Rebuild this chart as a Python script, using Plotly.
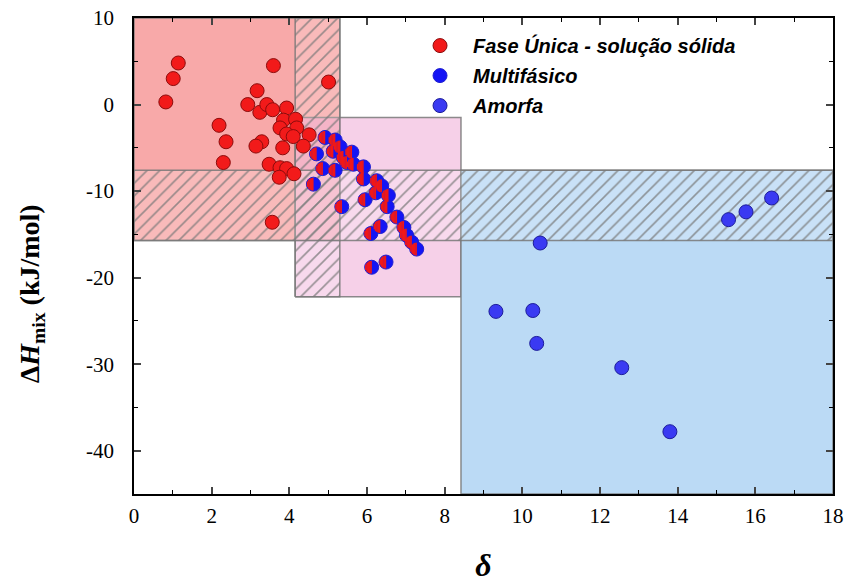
import math
import plotly.graph_objects as go

# ---- data ----
single_x = [1.14, 1.01, 0.82, 3.59, 5.01, 3.17, 2.93, 3.24, 3.42, 3.57, 3.93, 3.85, 4.16, 3.76, 4.19,
            3.93, 4.10, 4.51, 2.19, 2.37, 3.29, 3.14, 3.83, 4.36, 2.30, 3.48, 3.76, 3.93, 3.74, 4.12, 3.56]
single_y = [4.8, 3.0, 0.3, 4.5, 2.6, 1.6, 0.0, -0.9, 0.0, -0.6, -0.4, -1.8, -1.7, -2.7, -2.7,
            -3.4, -3.7, -3.5, -2.4, -4.3, -4.3, -4.8, -5.0, -4.8, -6.7, -6.9, -7.3, -7.4, -8.4, -8.0, -13.6]

multi_x = [4.92, 5.18, 5.31, 5.61, 4.70, 5.13, 5.39, 5.48, 5.65, 4.86, 5.18, 5.91, 5.91, 6.25, 6.38,
           6.23, 6.55, 4.62, 5.35, 5.95, 6.52, 6.77, 6.95, 7.02, 7.15, 7.28, 6.34, 6.10, 6.49, 6.12]
multi_y = [-3.8, -4.1, -4.9, -5.5, -5.7, -5.4, -6.1, -6.7, -6.9, -7.4, -7.6, -7.2, -8.6, -8.8, -9.4,
           -10.2, -10.5, -9.2, -11.8, -11.0, -11.8, -13.0, -14.2, -15.1, -15.9, -16.7, -14.1, -14.9, -18.2, -18.8]

amorph_x = [16.42, 15.76, 15.31, 10.46, 9.32, 10.27, 10.37, 12.56, 13.80]
amorph_y = [-10.8, -12.4, -13.3, -16.0, -23.9, -23.8, -27.6, -30.4, -37.8]

# region bounds [x0, x1, y0, y1]
red_region = [0, 5.3, -15.7, 10]
pink_region = [4.15, 8.42, -22.2, -1.5]
blue_region = [8.42, 18, -45, -7.6]
hatch_vertical = [4.15, 5.3, -22.2, 10]
hatch_band = [0, 18, -15.7, -7.6]

series_names = ["Fase Única - solução sólida", "Multifásico", "Amorfa"]
x_ticks = [0, 2, 4, 6, 8, 10, 12, 14, 16, 18]
x_tick_labels = ["0", "2", "4", "6", "8", "10", "12", "14", "16", "18"]
y_ticks = [-40, -30, -20, -10, 0, 10]
y_tick_labels = ["-40", "-30", "-20", "-10", "0", "10"]
x_title = "<b><i>δ</i></b>"
y_title = "<b>Δ<i>H</i><sub>mix</sub> (kJ/mol)</b>"


def rect(b):
    x0, x1, y0, y1 = b
    return [x0, x1, x1, x0, x0], [y0, y0, y1, y1, y0]


fig = go.Figure()
border = dict(color="rgba(120,120,120,0.85)", width=1.5)

for b, fc in [(red_region, "rgba(246,140,140,0.75)"),
              (pink_region, "rgba(236,150,205,0.45)"),
              (blue_region, "rgba(187,218,245,1)")]:
    xs, ys = rect(b)
    fig.add_trace(go.Scatter(x=xs, y=ys, mode="lines", fill="toself", fillcolor=fc,
                             line=border, showlegend=False, hoverinfo="skip"))

for b in [hatch_vertical, hatch_band]:
    xs, ys = rect(b)
    fig.add_trace(go.Scatter(x=xs, y=ys, mode="lines", fill="toself",
                             fillcolor="rgba(255,255,255,0.2)",
                             fillpattern=dict(shape="/", fgcolor="rgb(120,120,120)", fgopacity=0.75,
                                              bgcolor="rgba(255,255,255,0.2)", size=9, solidity=0.18),
                             line=border, showlegend=False, hoverinfo="skip"))

fig.add_trace(go.Scatter(
    x=single_x, y=single_y, mode="markers", name=series_names[0], legendgroup="a",
    marker=dict(size=14, color="#f21a1a", line=dict(color="#8c0c0c", width=1))))

# multiphase: blue disc with a red left half built from thin vertical strokes
fig.add_trace(go.Scatter(
    x=multi_x, y=multi_y, mode="markers", name=series_names[1], legendgroup="b",
    marker=dict(size=14, color="#1414f5", line=dict(color="#2020d0", width=1))))
R_HALF = 6.4
N_STRIPS = 5
w = R_HALF / N_STRIPS
for i in range(N_STRIPS):
    c = (i + 0.5) * w
    h = math.sqrt(R_HALF ** 2 - c ** 2)
    fig.add_trace(go.Scatter(
        x=multi_x, y=multi_y, mode="markers", showlegend=False, legendgroup="b", hoverinfo="skip",
        marker=dict(symbol="line-ew", size=2 * h / 1.4, angle=90, standoff=c,
                    line=dict(color="#f01818", width=w + 0.35))))

fig.add_trace(go.Scatter(
    x=amorph_x, y=amorph_y, mode="markers", name=series_names[2], legendgroup="c",
    marker=dict(size=14, color="#3a3af2", line=dict(color="#1c1c9a", width=1))))

serif = "Liberation Serif"
fig.update_layout(
    width=852, height=586,
    margin=dict(l=134, r=19, t=18, b=92),
    plot_bgcolor="white", paper_bgcolor="white",
    showlegend=True,
    legend=dict(x=0.3906, y=0.983, xanchor="left", yanchor="top", bgcolor="rgba(0,0,0,0)",
                font=dict(family="Liberation Sans", size=20, color="black", weight="bold", style="italic"),
                tracegroupgap=1, traceorder="grouped", itemwidth=56),
    xaxis=dict(range=[0, 18], tickvals=x_ticks, ticktext=x_tick_labels, ticks="inside", ticklen=7, tickwidth=1.5,
               showline=True, linecolor="black", linewidth=1.5, mirror="ticks", showgrid=False,
               zeroline=False, tickfont=dict(family=serif, size=21, color="black"), automargin=False,
               minor=dict(dtick=1, ticks="inside", ticklen=4, tickwidth=1.2, tickcolor="black", showgrid=False),
               title=dict(text=x_title, font=dict(family=serif, size=32, color="black"), standoff=27),
               ticklabelstandoff=2),
    yaxis=dict(range=[-45, 10], tickvals=y_ticks, ticktext=y_tick_labels, ticks="inside", ticklen=7, tickwidth=1.5,
               showline=True, linecolor="black", linewidth=1.5, mirror="ticks", showgrid=False,
               zeroline=False, tickfont=dict(family=serif, size=21, color="black"), automargin=False,
               minor=dict(dtick=5, ticks="inside", ticklen=4, tickwidth=1.2, tickcolor="black", showgrid=False),
               ticklabelstandoff=14),
    annotations=[dict(text=y_title, xref="paper", yref="paper", x=-0.147, y=0.42,
                      xanchor="center", yanchor="middle", textangle=-90, showarrow=False,
                      font=dict(family=serif, size=28, color="black"))],
)

fig.write_html("out.html", config={"displayModeBar": False},
               post_script="document.body.style.margin='0px';")
